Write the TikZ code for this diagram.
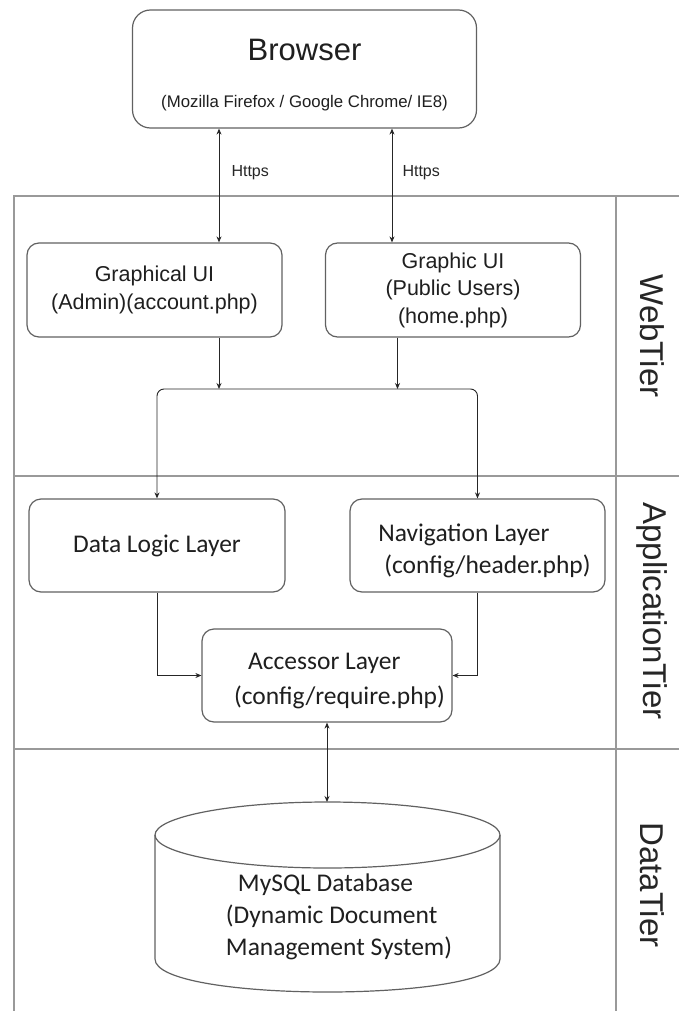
\documentclass[tikz,border=0pt]{standalone}
\usepackage{fontspec}
\setmainfont{Liberation Sans}
\newfontfamily\calibri{Carlito}
\usetikzlibrary{arrows.meta}

\begin{document}
\begin{tikzpicture}[x=1pt,y=-1pt,
  lane/.style={draw=black!40, line width=2pt},
  box/.style={draw=black!62, line width=1.2pt, rounded corners=12pt, fill=white,
    inner sep=0pt, text=black!88},
  arial/.style={font=\fontsize{21.5}{27.5}\selectfont, align=center},
  cal/.style={font=\calibri\fontsize{25.5}{32}\selectfont},
  link/.style={draw=black!85, line width=0.9pt, -{Stealth[length=6pt,width=5pt]}},
  dlink/.style={draw=black!85, line width=0.9pt,
    {Stealth[length=6pt,width=5pt]}-{Stealth[length=6pt,width=5pt]}},
  tier/.style={rotate=-90, text=black!85, font=\fontsize{33}{33}\selectfont},
  proto/.style={font=\fontsize{16}{16}\selectfont, anchor=west, text=black!85},
]
\useasboundingbox (0,0) rectangle (679,1011);
\fill[white] (0,0) rectangle (679,1011);

% swim lanes
\draw[lane] (14,1011) -- (14,196) -- (679,196);
\draw[lane] (14,476) -- (679,476);
\draw[lane] (14,749) -- (679,749);
\draw[lane] (616,196) -- (616,1011);

\node[tier] (webtier) at (652,336) {WebTier};
\node[tier] (apptier) at (652,611) {ApplicationTier};
\node[tier] (datatier) at (652,885) {DataTier};

% browser
\node[box, rounded corners=18pt, minimum width=344pt, minimum height=118pt]
  (browser) at (304.5,69) {};
\node[text=black!88, font=\fontsize{31}{31}\selectfont] (btitle) at (304.5,50) {Browser};
\node[text=black!88, font=\fontsize{16.8}{16.8}\selectfont] (bsub) at (304.5,103)
  {(Mozilla Firefox / Google Chrome/ IE8)};

% web tier
\node[box, arial, minimum width=255pt, minimum height=94pt] (gui1) at (154.5,290)
  {Graphical UI\\(Admin)(account.php)};
\node[box, arial, minimum width=255pt, minimum height=94pt] (gui2) at (453,290)
  {Graphic UI\\(Public Users)\\(home.php)};

% application tier
\node[box, cal, minimum width=256pt, minimum height=93pt] (dl) at (157,545.5)
  {Data Logic Layer};
\node[box, cal, align=left, minimum width=255pt, minimum height=93pt] (nav) at (477.5,545.5)
  {\rule{0pt}{28pt}\hspace*{14pt}Navigation Layer\\\hspace*{20pt}(config/header.php)};
\node[box, cal, align=left, minimum width=250pt, minimum height=93pt] (acc) at (327,675.5)
  {\rule{0pt}{28pt}\hspace*{39pt}Accessor Layer\\[3pt]\hspace*{25pt}(config/require.php)};

% data tier: database cylinder
\draw[draw=black!62, line width=1.2pt, fill=white]
  (155,835) -- (155,959) .. controls (155,1003) and (500,1003) .. (500,959) -- (500,835);
\draw[draw=black!62, line width=1.2pt] (327.5,835) ellipse [x radius=172.5, y radius=33];
\coordinate (dbtop) at (327,802);
\node[cal, align=left, text=black!88] (db) at (339,917)
  {\hspace*{12pt}MySQL Database\\(Dynamic Document\\Management System)};

% connectors
\coordinate (h1) at (219,0);
\coordinate (h2) at (392,0);
\coordinate (h3) at (397.5,0);
\coordinate (bus) at (0,389);

\draw[dlink] (browser.south -| h1) -- (gui1.north -| h1);
\draw[dlink] (browser.south -| h2) -- (gui2.north -| h2);
\node[proto] (https1) at (228,173) {Https};
\node[proto] (https2) at (399,173) {Https};

\draw[link] (gui1.south -| h1) -- (h1 |- bus);
\draw[link] (gui2.south -| h3) -- (h3 |- bus);
\draw[dlink, rounded corners=7pt]
  (dl.north) -- (dl.north |- bus) -- (nav.north |- bus) -- (nav.north);

\draw[link] (dl.south) |- (acc.west);
\draw[link] (nav.south) |- (acc.east);
\draw[dlink] (acc.south) -- (dbtop);
\end{tikzpicture}
\end{document}
